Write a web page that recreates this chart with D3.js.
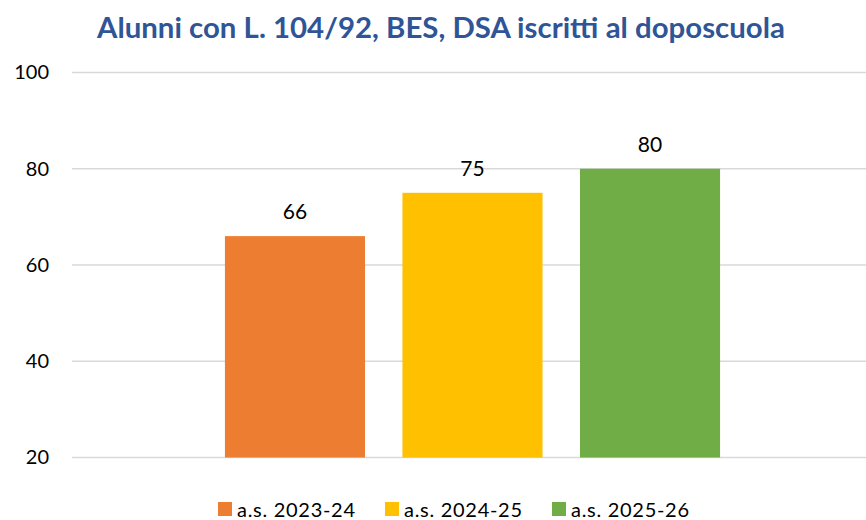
<!DOCTYPE html>
<html>
<head>
<meta charset="utf-8">
<script src="https://cdn.jsdelivr.net/npm/d3@7"></script>
<style>
  body { margin: 0; background: #fff; }
  svg { display: block; font-family: Lato, "Open Sans", sans-serif; }
</style>
</head>
<body>
<svg id="chart" width="866" height="520"></svg>
<script>
const title = 'Alunni con L. 104/92, BES, DSA iscritti al doposcuola';
const seriesNames = ['a.s. 2023-24', 'a.s. 2024-25', 'a.s. 2025-26'];
const seriesValues = [66, 75, 80];
const seriesColors = ['#ED7D31', '#FFC000', '#70AD47'];
const yTicks = [20, 40, 60, 80, 100];

const width = 866;
const svg = d3.select('#chart');

const y = d3.scaleLinear().domain([20, 100]).range([457.5, 72.5]);
const x = d3.scaleBand()
  .domain(seriesNames)
  .range([79, 866])
  .paddingInner(0.211)
  .paddingOuter(0.822);

// gridlines
svg.append('g')
  .selectAll('line')
  .data(yTicks)
  .enter()
  .append('line')
  .attr('x1', 72)
  .attr('x2', width)
  .attr('y1', (d) => y(d))
  .attr('y2', (d) => y(d))
  .attr('stroke', '#D9D9D9')
  .attr('stroke-width', 1.5);

// y axis labels
const yAxis = svg.append('g')
  .attr('transform', 'translate(49,0)')
  .call(d3.axisLeft(y).tickValues(yTicks).tickSize(0).tickPadding(0));
yAxis.select('.domain').remove();
yAxis.selectAll('text')
  .attr('font-size', 20)
  .attr('font-family', 'Lato, sans-serif')
  .attr('fill', '#000');

// bars
const floor = y.domain()[0];
svg.append('g')
  .selectAll('rect')
  .data(seriesValues)
  .enter()
  .append('rect')
  .attr('x', (d, i) => x(seriesNames[i]))
  .attr('y', (d) => y(d))
  .attr('width', x.bandwidth())
  .attr('height', (d) => y(floor) - y(d))
  .attr('fill', (d, i) => seriesColors[i]);

// value labels
svg.append('g')
  .selectAll('text')
  .data(seriesValues)
  .enter()
  .append('text')
  .attr('x', (d, i) => x(seriesNames[i]) + x.bandwidth() / 2)
  .attr('y', (d) => y(d) - 17)
  .attr('text-anchor', 'middle')
  .attr('font-size', 21)
  .attr('fill', '#000')
  .text((d) => d);

// title
svg.append('text')
  .attr('x', 441)
  .attr('y', 38)
  .attr('text-anchor', 'middle')
  .attr('font-size', 28)
  .attr('font-weight', 'bold')
  .attr('fill', '#2F5597')
  .attr('textLength', 688)
  .attr('lengthAdjust', 'spacingAndGlyphs')
  .text(title);

// legend
const legendX = [218, 385, 552];
const legend = svg.append('g')
  .selectAll('g')
  .data(seriesNames)
  .enter()
  .append('g')
  .attr('transform', (d, i) => `translate(${legendX[i]},502)`);
legend.append('rect')
  .attr('width', 14)
  .attr('height', 14)
  .attr('fill', (d, i) => seriesColors[i]);
legend.append('text')
  .attr('x', 19)
  .attr('y', 15)
  .attr('font-size', 20)
  .attr('fill', '#000')
  .attr('textLength', 118)
  .attr('lengthAdjust', 'spacing')
  .text((d) => d);
</script>
</body>
</html>
